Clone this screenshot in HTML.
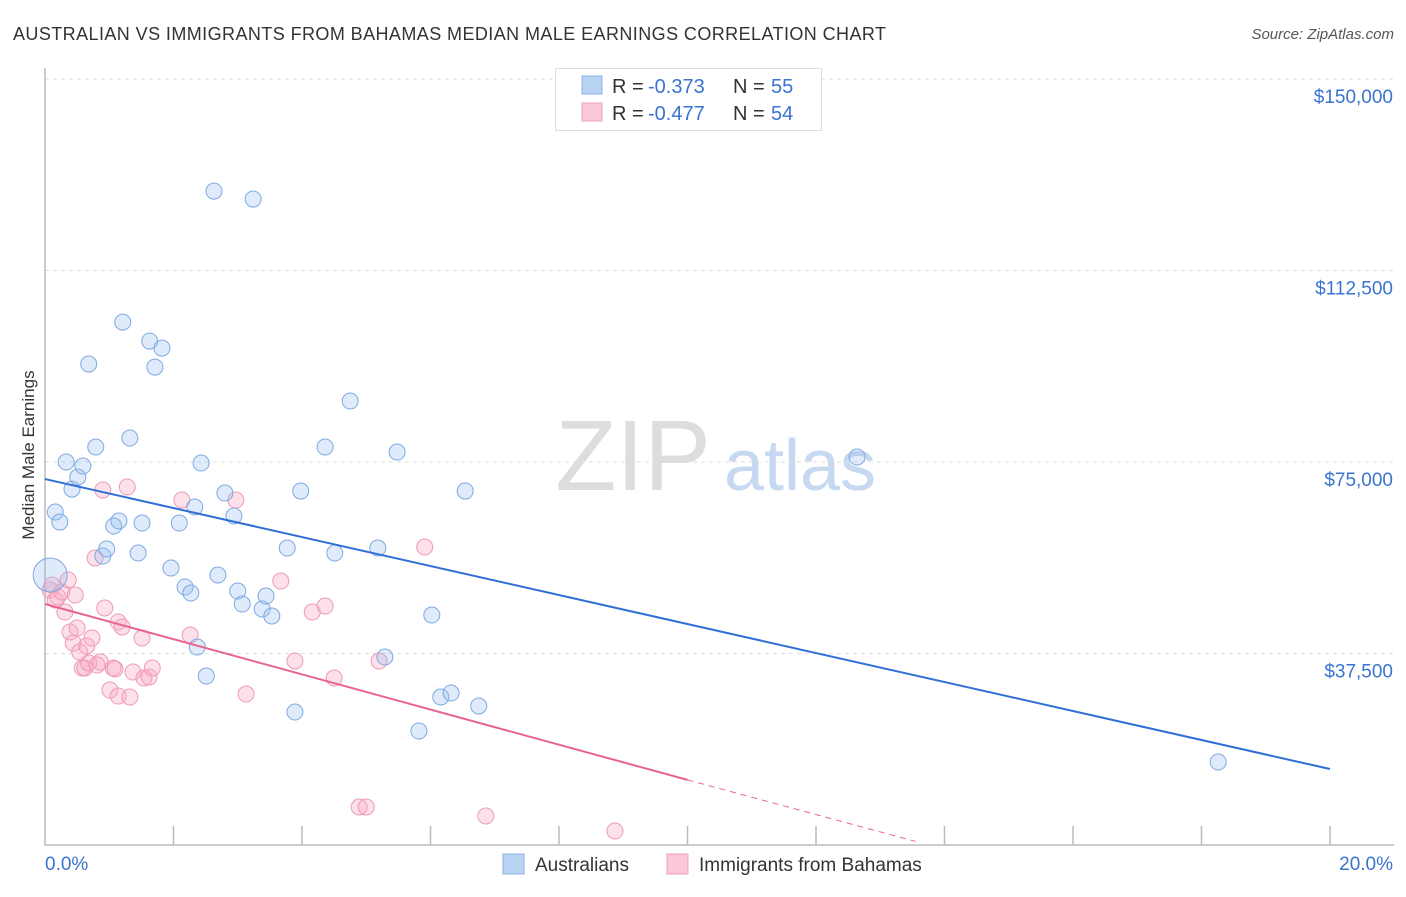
<!DOCTYPE html>
<html><head><meta charset="utf-8"><style>
body{margin:0;background:#fff;font-family:"Liberation Sans",sans-serif;}
svg text{font-family:"Liberation Sans",sans-serif;}
</style></head><body>
<svg id="chart" width="1406" height="892">
<text x="13" y="40" font-size="18" fill="#333" textLength="873">AUSTRALIAN VS IMMIGRANTS FROM BAHAMAS MEDIAN MALE EARNINGS CORRELATION CHART</text>
<text x="1394" y="39" font-size="15" fill="#555" font-style="italic" text-anchor="end">Source: ZipAtlas.com</text>
<text transform="translate(34,455) rotate(-90)" font-size="17" fill="#333" text-anchor="middle">Median Male Earnings</text>
<g><text x="633" y="490" font-size="100" fill="#ddd" font-family="Liberation Serif" text-anchor="middle">ZIP</text><text x="800" y="490" font-size="72" fill="#c7d9f0" text-anchor="middle">atlas</text></g>
<g id="grid"></g><g id="axes"></g><g id="marks"></g>
<g>
<rect x="555.5" y="68.5" width="266" height="62" fill="#fff" stroke="#ddd"/>
<rect x="582" y="76" width="20" height="18" fill="#b9d3f3" stroke="#8ab2e8"/>
<text x="612" y="93" font-size="20" fill="#333">R =</text>
<text x="648" y="93" font-size="20" fill="#3a74d0">-0.373</text>
<text x="733" y="93" font-size="20" fill="#333">N =</text>
<text x="771" y="93" font-size="20" fill="#3a74d0">55</text>
<rect x="582" y="103" width="20" height="18" fill="#fbc9d8" stroke="#f0a0b8"/>
<text x="612" y="120" font-size="20" fill="#333">R =</text>
<text x="648" y="120" font-size="20" fill="#3a74d0">-0.477</text>
<text x="733" y="120" font-size="20" fill="#333">N =</text>
<text x="771" y="120" font-size="20" fill="#3a74d0">54</text>
</g>
<g>
<rect x="503" y="854" width="21" height="20" fill="#b9d3f3" stroke="#8ab2e8"/>
<text x="535" y="871" font-size="19" fill="#333">Australians</text>
<rect x="667" y="854" width="21" height="20" fill="#fbc9d8" stroke="#f0a0b8"/>
<text x="699" y="871" font-size="19" fill="#333">Immigrants from Bahamas</text>
</g>
</svg>
<script>
const yTicks=[37500,75000,112500,150000];
const yTickLabels=["$37,500","$75,000","$112,500","$150,000"];
const blueX=[0.08,0.16,0.23,0.33,0.42,0.51,0.59,0.68,0.79,0.90,0.96,1.07,1.15,1.21,1.32,1.45,1.51,1.63,1.71,1.82,1.96,2.09,2.18,2.27,2.33,2.37,2.43,2.51,2.63,2.69,2.80,2.94,3.00,3.07,3.24,3.38,3.44,3.53,3.77,3.89,3.98,4.36,4.51,4.75,5.18,5.29,5.48,5.82,6.02,6.16,6.32,6.54,6.75,12.64,18.26];
const blueY=[52870,65200,63240,74990,69700,72050,74210,94180,77930,56590,57960,62460,63440,102400,79690,57170,63050,98680,93590,97310,54240,63050,50520,49340,66180,38770,74800,33090,128050,52870,68920,64420,49730,47190,126490,46210,48750,44840,58150,26040,69310,77930,57170,86940,58150,36810,76950,22320,45030,28980,29760,69310,27220,75970,16250];
const pinkX=[0.08,0.11,0.16,0.20,0.26,0.31,0.36,0.39,0.44,0.47,0.50,0.54,0.58,0.62,0.65,0.68,0.73,0.78,0.81,0.86,0.90,0.93,1.01,1.06,1.09,1.14,1.14,1.20,1.28,1.32,1.37,1.51,1.54,1.62,1.67,2.13,2.26,2.97,3.13,3.67,3.89,4.16,4.36,4.50,4.89,5.00,5.20,5.91,6.86,8.87];
const pinkY=[49930,50910,47970,48560,49540,45620,51890,41710,39550,48950,42490,37790,34660,34660,38960,35640,40530,56190,35240,35830,69510,46410,30350,34660,34460,29170,43660,42690,70100,28980,33870,40530,32700,32900,34660,67550,41120,67550,29560,51690,36030,45620,46800,32700,7440,7440,36030,58350,5680,2740];
const blueTrend=[71660,14880];
const pinkTrend=[47190,12750,700];
const pinkTrendX=[0,10,13.55];
const NS="http://www.w3.org/2000/svg";
const X=v=>45+v*64.25, Y=v=>845-v*191.5/37500;
function mk(p,t,a){const e=document.createElementNS(NS,t);for(const k in a)e.setAttribute(k,a[k]);p.appendChild(e);return e;}
const grid=document.getElementById('grid'),axes=document.getElementById('axes'),marks=document.getElementById('marks');
yTicks.forEach((v,i)=>{
 const l=mk(grid,'line',{x1:45,x2:1394,y1:Y(v),y2:Y(v),stroke:'#ddd','stroke-dasharray':'4,4'});
 
 
 const t=mk(axes,'text',{x:1393,y:Y(v)+24,'font-size':19,fill:'#3a74d0','text-anchor':'end'});
 t.textContent=yTickLabels[i];
 
 
});
const ax=mk(axes,'path',{d:'M45,68V845H1394',fill:'none',stroke:'#bbb','stroke-width':1.5});


for(let i=1;i<=10;i++){const t=mk(axes,'line',{x1:X(i*2),x2:X(i*2),y1:826,y2:845,stroke:'#bbb','stroke-width':1.5});
 
 }
const x0=mk(axes,'text',{x:45,y:870,'font-size':19,fill:'#3a74d0'});x0.textContent='0.0%';


const x1=mk(axes,'text',{x:1393,y:870,'font-size':19,fill:'#3a74d0','text-anchor':'end'});x1.textContent='20.0%';


pinkX.forEach((v,i)=>{const c=mk(marks,'circle',{cx:X(v),cy:Y(pinkY[i]),r:8,fill:'rgba(248,170,195,0.35)',stroke:'#ee9ab5','stroke-width':1});
 
 });
blueX.forEach((v,i)=>{const c=mk(marks,'circle',{cx:X(v),cy:Y(blueY[i]),r:i==0?17:8,fill:'rgba(150,190,240,0.3)',stroke:'#7ea9e2','stroke-width':1});
 
 });
const bl=mk(marks,'line',{x1:X(0),y1:Y(blueTrend[0]),x2:X(20),y2:Y(blueTrend[1]),stroke:'#2f6fd6','stroke-width':2});


const pl=mk(marks,'line',{x1:X(pinkTrendX[0]),y1:Y(pinkTrend[0]),x2:X(pinkTrendX[1]),y2:Y(pinkTrend[1]),stroke:'#e8648e','stroke-width':2});


const pd=mk(marks,'line',{x1:X(pinkTrendX[1]),y1:Y(pinkTrend[1]),x2:X(pinkTrendX[2]),y2:Y(pinkTrend[2]),stroke:'#e8648e','stroke-width':1,'stroke-dasharray':'6,5'});


</script>
</body></html>
